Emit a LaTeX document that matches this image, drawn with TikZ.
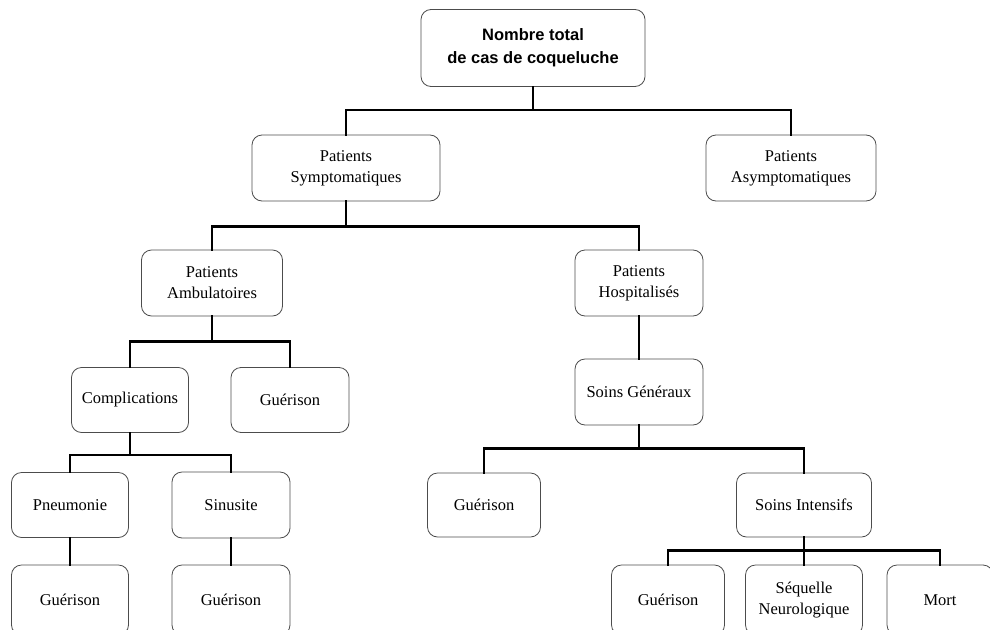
\documentclass[tikz,border=0pt]{standalone}
\usepackage{fontspec}
\setmainfont{Liberation Serif}
\newfontfamily\titlefont{Liberation Sans}
\usetikzlibrary{positioning}

\begin{document}
\begin{tikzpicture}[
  x=1pt, y=-1pt,
  box/.style={rectangle, draw=black!70, line width=0.8pt, rounded corners=10pt, align=center,
    minimum height=66pt, inner sep=2pt, font=\fontsize{16.5}{21}\selectfont},
  titlebox/.style={box, minimum width=224pt, minimum height=77pt,
    font=\titlefont\bfseries\fontsize{16.5}{23}\selectfont},
  link/.style={line width=2.6pt, line cap=rect}
]
\useasboundingbox (0,0) rectangle (990,629);
\clip (0,0) rectangle (990,629);

% niveau 0 et 1
\node[titlebox] (total) at (533,48) {Nombre total\\ de cas de coqueluche};
\node[box, minimum width=188pt] (sympt) at (346,168) {Patients\\ Symptomatiques};
\node[box, minimum width=170pt] (asympt) at (791,168) {Patients\\ Asymptomatiques};

% niveau 2
\node[box, minimum width=141pt] (ambul) at (212,283) {Patients\\ Ambulatoires};
\node[box, minimum width=128pt] (hospit) at (639,283) {Patients\\ Hospitalisés};

% ambulatoires
\node[box, minimum width=117pt, minimum height=65pt] (compl) at (130,400) {Complications};
\node[box, minimum width=118pt, minimum height=65pt] (guerA) at (290,400) {Guérison};
\node[box, minimum width=117pt, minimum height=65pt] (pneumo) at (70,505) {Pneumonie};
\node[box, minimum width=118pt] (sinus) at (231,505) {Sinusite};
\node[box, minimum width=117pt, minimum height=70pt] (guerB) at (70,600) {Guérison};
\node[box, minimum width=118pt, minimum height=70pt] (guerC) at (231,600) {Guérison};

% hospitalises
\node[box, minimum width=128pt] (sgen) at (639,392) {Soins Généraux};
\node[box, minimum width=113pt, minimum height=64pt] (guerD) at (484,505) {Guérison};
\node[box, minimum width=135pt, minimum height=64pt] (sint) at (804,505) {Soins Intensifs};
\node[box, minimum width=113pt, minimum height=70pt] (guerE) at (668,600) {Guérison};
\node[box, minimum width=117pt, minimum height=70pt] (sequel) at (804,600) {Séquelle\\ Neurologique};
\node[box, minimum width=106pt, minimum height=70pt] (mort) at (940,600) {Mort};

% liaisons
\draw[link] (total.south) -- ++(0,23) -| (sympt.north);
\draw[link] (total.south) -- ++(0,23) -| (asympt.north);
\draw[link] (sympt.south) -- ++(0,25) -| (ambul.north);
\draw[link] (sympt.south) -- ++(0,25) -| (hospit.north);
\draw[link] (ambul.south) -- ++(0,25) -| (compl.north);
\draw[link] (ambul.south) -- ++(0,25) -| (guerA.north);
\draw[link] (compl.south) -- ++(0,22) -| (pneumo.north);
\draw[link] (compl.south) -- ++(0,22) -| (sinus.north);
\draw[link] (pneumo) -- (guerB);
\draw[link] (sinus) -- (guerC);
\draw[link] (hospit) -- (sgen);
\draw[link] (sgen.south) -- ++(0,23) -| (guerD.north);
\draw[link] (sgen.south) -- ++(0,23) -| (sint.north);
\draw[link] (sint.south) -- ++(0,13) -| (guerE.north);
\draw[link] (sint.south) -- ++(0,13) -| (sequel.north);
\draw[link] (sint.south) -- ++(0,13) -| (mort.north);
\end{tikzpicture}
\end{document}
